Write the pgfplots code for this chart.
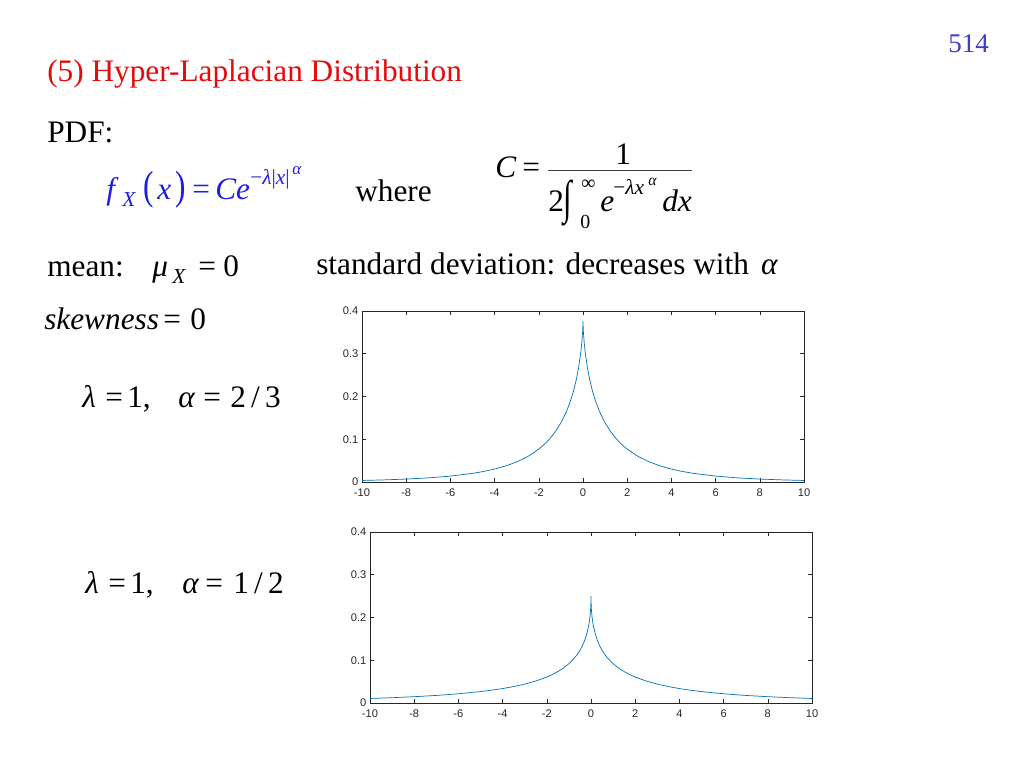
\documentclass[border=0pt]{standalone}
\usepackage{fontspec}
\setmainfont{Liberation Serif}
\newfontfamily\ticksf{Liberation Sans}
\usepackage{graphicx}
\usepackage{pgfplots}
\usepackage{pgfplotstable}
\pgfplotsset{compat=1.18}

\definecolor{mlblue}{RGB}{0,114,189}
\definecolor{axgray}{RGB}{38,38,38}
\definecolor{slideblue}{RGB}{30,30,225}
\definecolor{pageblue}{RGB}{60,60,205}
\definecolor{slidered}{RGB}{230,10,10}

% f(x) = C exp(-lambda |x|^alpha), lambda = 1
% a: alpha = 2/3 (C = 0.3761), b: alpha = 1/2 (C = 0.25)
\pgfplotstableread{
x a b
-10 0.00363 0.0106
-9 0.00497 0.0124
-8 0.00689 0.0148
-7 0.00969 0.0177
-6 0.0138 0.0216
-5 0.0202 0.0267
-4.5 0.0246 0.0300
-4 0.0303 0.0338
-3.5 0.0375 0.0385
-3 0.0470 0.0442
-2.5 0.0596 0.0514
-2 0.0769 0.0608
-1.75 0.0880 0.0666
-1.5 0.1014 0.0735
-1.25 0.1179 0.0817
-1 0.1384 0.0920
-0.75 0.1647 0.1052
-0.6 0.1847 0.1152
-0.5 0.2003 0.1233
-0.4 0.2186 0.1328
-0.3 0.2403 0.1446
-0.2 0.2672 0.1599
-0.1 0.3032 0.1822
-0.05 0.3284 0.1999
-0.02 0.3494 0.2170
-0.01 0.3591 0.2262
-0.001 0.3724 0.2422
0 0.3761 0.2500
0.001 0.3724 0.2422
0.01 0.3591 0.2262
0.02 0.3494 0.2170
0.05 0.3284 0.1999
0.1 0.3032 0.1822
0.2 0.2672 0.1599
0.3 0.2403 0.1446
0.4 0.2186 0.1328
0.5 0.2003 0.1233
0.6 0.1847 0.1152
0.75 0.1647 0.1052
1 0.1384 0.0920
1.25 0.1179 0.0817
1.5 0.1014 0.0735
1.75 0.0880 0.0666
2 0.0769 0.0608
2.5 0.0596 0.0514
3 0.0470 0.0442
3.5 0.0375 0.0385
4 0.0303 0.0338
4.5 0.0246 0.0300
5 0.0202 0.0267
6 0.0138 0.0216
7 0.00969 0.0177
8 0.00689 0.0148
9 0.00497 0.0124
10 0.00363 0.0106
}\pdfdata

\pgfplotsset{mlstyle/.style={
  scale only axis,
  width=310.78pt, height=120.23pt,
  anchor=south west,
  xmin=-10, xmax=10, ymin=0, ymax=0.4,
  xtick={-10,-8,-6,-4,-2,0,2,4,6,8,10},
  ytick={0,0.1,0.2,0.3,0.4},
  tick align=inside, major tick length=3pt,
  axis line style={axgray, line width=0.4pt},
  every tick/.style={axgray, line width=0.4pt},
  tick label style={font=\ticksf\fontsize{7.8}{8}\selectfont, text=axgray},
  /pgf/number format/assume math mode=true,
  yticklabel style={/pgf/number format/fixed, /pgf/number format/precision=1, xshift=1pt},
  xticklabel style={yshift=-1pt},
}}

\newcommand\sz[1]{\fontsize{#1}{#1}\selectfont}

\begin{document}
\begin{tikzpicture}
\begin{scope}[x=0.703125pt, y=-0.703125pt,
  every node/.style={anchor=base west, inner sep=0pt, font=\sz{22}}]
\useasboundingbox (0,0) rectangle (1024,768);

% page number and title
\node[text=pageblue, font=\sz{19}] at (948,53) {514};
\node[text=slidered] at (47,82) {(5) Hyper-Laplacian Distribution};
\node at (47,143) {PDF:};

% f_X(x) = C e^{-lambda |x|^alpha}
\begin{scope}[every node/.append style={text=slideblue}]
\node at (106,200) {\textit{f}};
\node[font=\sz{15}] at (122,207) {\textit{X}};
\node at (143,200) {\scalebox{1}[1.3]{(}};
\node at (157,200) {\textit{x}};
\node at (175,200) {\scalebox{1}[1.3]{)}};
\node at (192,200) {=};
\node at (215,200) {\textit{Ce}};
\node[font=\sz{15}] at (250,185) {−\textit{λ}|\textit{x}|};
\node[font=\sz{12}] at (292,175) {\textit{α}};
\end{scope}

\node at (355,202) {where};

% C = 1 / (2 int_0^inf e^{-lambda x^alpha} dx)
\node at (495,178) {\textit{C}};
\node at (522,178) {=};
\draw[black!75, line width=0.7pt] (548,170) -- (692,170);
\node at (615,165) {1};
\node at (548,212) {2};
\node[anchor=center] at (568,203) {\scalebox{1}[1.5]{∫}};
\node[font=\sz{14}] at (581,190) {∞};
\node[font=\sz{14}] at (580,229) {0};
\node at (600,212) {\textit{e}};
\node[font=\sz{15}] at (613,195) {−\textit{λx}};
\node[font=\sz{11}] at (648,186) {\textit{α}};
\node at (662,212) {\textit{dx}};

% mean and standard deviation
\node at (47,277) {mean:};
\node at (152,277) {\textit{μ}};
\node[font=\sz{15}] at (172,284) {\textit{X}};
\node at (198,277) {=};
\node at (223,277) {0};
\node at (316,275) {standard deviation: decreases with\hspace{3pt} \textit{α}};

% skewness
\node at (44,330) {\textit{skewness}};
\node at (163,330) {=};
\node at (190,330) {0};

% parameters of the two plots
\node at (82,407) {\textit{λ}};
\node at (105,407) {=};
\node at (127,407) {1,};
\node at (178,407) {\textit{α}};
\node at (203,407) {=};
\node at (230,407) {2\,/\,3};

\node at (85,593) {\textit{λ}};
\node at (108,593) {=};
\node at (130,593) {1,};
\node at (182,593) {\textit{α}};
\node at (205,593) {=};
\node at (233,593) {1\,/\,2};
\end{scope}

\begin{axis}[mlstyle, at={(254.53pt,-338.91pt)}]
\addplot[mlblue, line width=0.5pt] table[x=x, y=a] {\pdfdata};
\end{axis}

\begin{axis}[mlstyle, at={(260.16pt,-494.30pt)}]
\addplot[mlblue, line width=0.5pt] table[x=x, y=b] {\pdfdata};
\end{axis}
\end{tikzpicture}
\end{document}
